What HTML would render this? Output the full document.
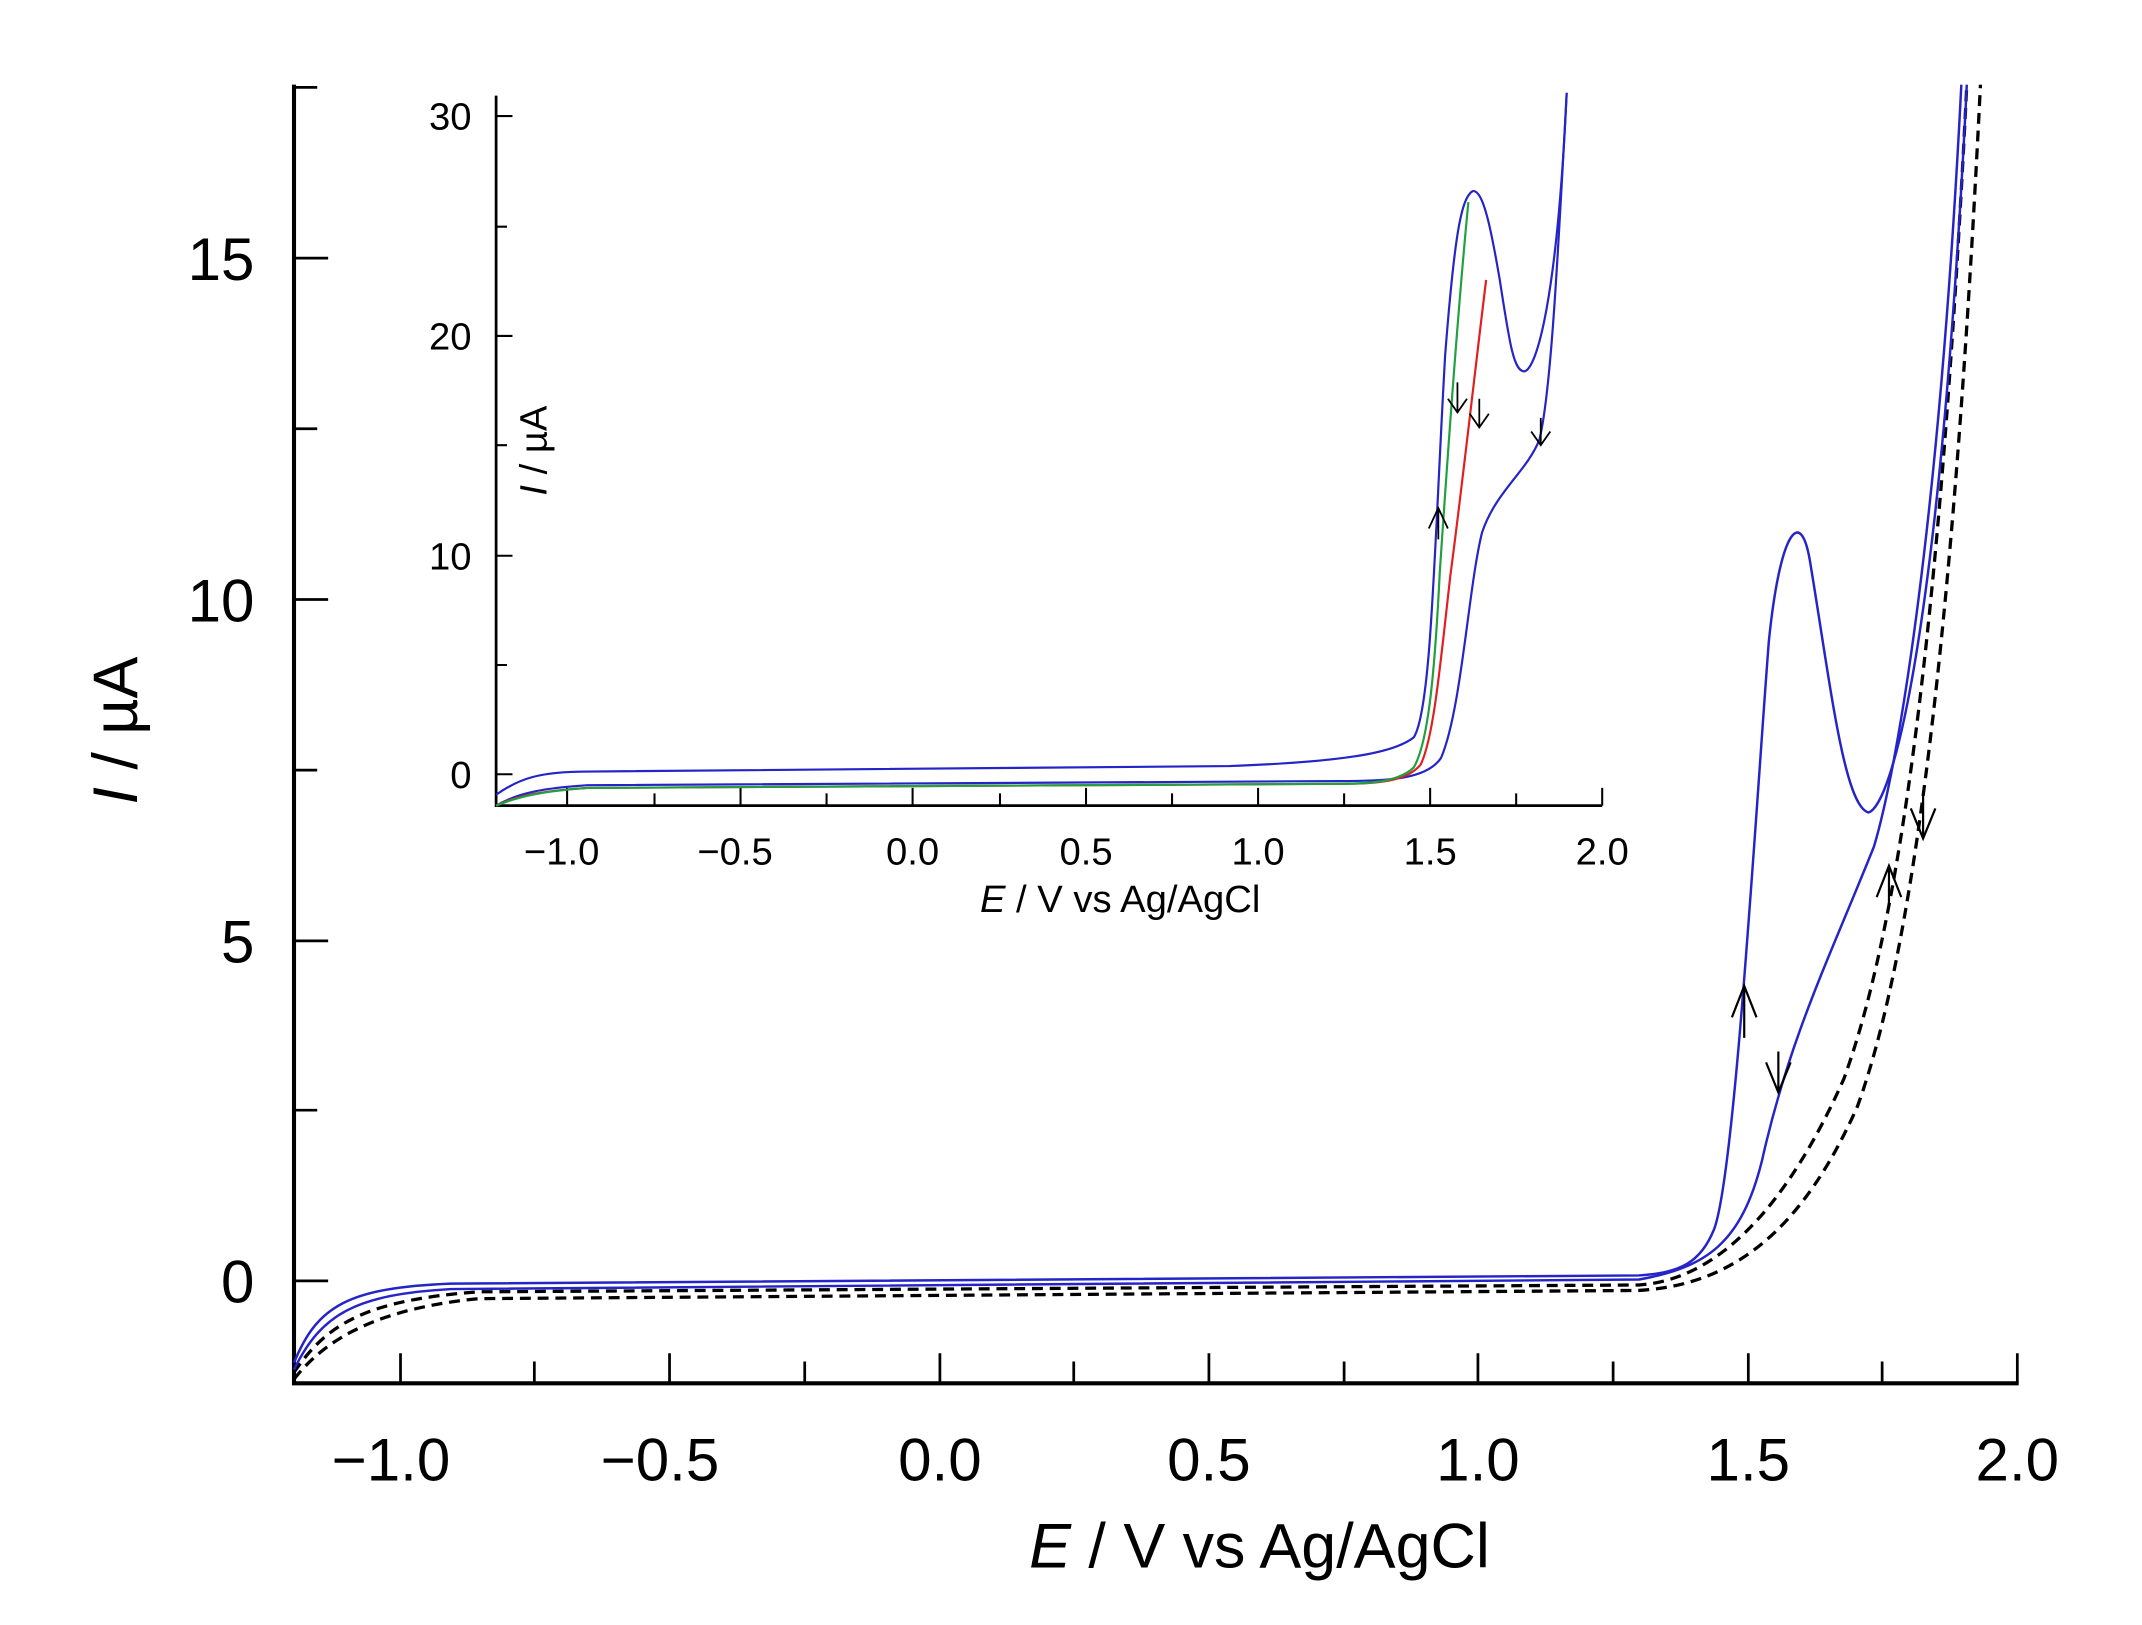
<!DOCTYPE html>
<html><head><meta charset="utf-8"><style>
html,body{margin:0;padding:0;background:#fff;}
svg{display:block;}
text{font-family:"Liberation Sans",Arial,sans-serif;fill:#000;}
</style></head><body>
<svg width="2142" height="1625" viewBox="0 0 1568 1190" xmlns="http://www.w3.org/2000/svg">
<rect width="1568" height="1190" fill="#fff"/>
<!-- main axes -->
<g stroke="#000" fill="none">
<path d="M215,62 V1013 H1478" stroke-width="3"/>
<g stroke-width="2">
<path d="M293,1013v-22 M490,1013v-22 M688,1013v-22 M885,1013v-22 M1082,1013v-22 M1280,1013v-22 M1477,1013v-22"/>
<path d="M391,1013v-16 M589,1013v-16 M786,1013v-16 M984,1013v-16 M1181,1013v-16 M1378,1013v-16"/>
<path d="M215,938h25 M215,689h25 M215,439h25 M215,189h25"/>
<path d="M215,813h17 M215,564h17 M215,314h17 M215,64h17"/>
</g></g>
<g font-size="44" text-anchor="middle">
<text x="286" y="1084">−1.0</text><text x="483" y="1084">−0.5</text><text x="688" y="1084">0.0</text>
<text x="885" y="1084">0.5</text><text x="1082" y="1084">1.0</text><text x="1280" y="1084">1.5</text><text x="1477" y="1084">2.0</text>
</g>
<g font-size="44" text-anchor="end">
<text x="186" y="954">0</text><text x="186" y="705">5</text><text x="186" y="455">10</text><text x="186" y="205">15</text>
</g>
<text x="922" y="1148" font-size="46" text-anchor="middle"><tspan font-style="italic">E</tspan> / V vs Ag/AgCl</text>
<text transform="translate(100,535) rotate(-90)" font-size="46" text-anchor="middle"><tspan font-style="italic">I</tspan> / µA</text>

<!-- main curves -->
<g fill="none">
<path stroke="#000" stroke-width="2.4" stroke-dasharray="8,5" d="M215,1005 C240,968 270,952 350,946 L1200,941 C1260,937 1310,880 1350,790 C1390,680 1420,470 1440,62"/>
<path stroke="#000" stroke-width="2.4" stroke-dasharray="8,5" d="M215,1010 C240,978 280,958 350,951 L1200,945 C1270,941 1320,900 1360,810 C1400,700 1430,470 1450,62"/>
<path stroke="#2424c8" stroke-width="1.8" d="M215,998 C232,956 255,943 330,940 L1200,934 C1230,932 1245,925 1255,900 C1270,860 1285,600 1295,470 C1303,390 1318,370 1325,410 C1340,500 1350,590 1368,595 C1385,590 1420,470 1440,62"/>
<path stroke="#2424c8" stroke-width="1.8" d="M1436,62 C1420,380 1390,560 1372,620 C1340,700 1310,760 1290,850 C1275,910 1250,928 1200,937 L330,944 C260,948 235,962 215,1003"/>
</g>
<g fill="none" stroke="#000" stroke-width="1.6">
<path d="M1277,760 V722 M1268,745 L1277,722 L1286,745"/>
<path d="M1302,770 V800 M1293,778 L1302,800 L1311,778"/>
<path d="M1383,665 V634 M1374,657 L1383,634 L1392,657"/>
<path d="M1408,580 V614 M1399,592 L1408,614 L1417,592"/>
</g>

<!-- inset axes -->
<g stroke="#000" fill="none">
<path d="M363,70 V590 H1173" stroke-width="2"/>
<g stroke-width="1.5">
<path d="M415,590v-13 M542,590v-13 M668,590v-13 M795,590v-13 M921,590v-13 M1047,590v-13 M1173,590v-13"/>
<path d="M479,590v-9 M605,590v-9 M732,590v-9 M858,590v-9 M984,590v-9 M1110,590v-9"/>
<path d="M363,567h12 M363,407h12 M363,246h12 M363,85h12"/>
<path d="M363,487h8 M363,326h8 M363,166h8"/>
</g></g>
<g font-size="28" text-anchor="middle">
<text x="411" y="633">−1.0</text><text x="538" y="633">−0.5</text><text x="668" y="633">0.0</text>
<text x="795" y="633">0.5</text><text x="921" y="633">1.0</text><text x="1047" y="633">1.5</text><text x="1173" y="633">2.0</text>
</g>
<g font-size="28" text-anchor="end">
<text x="345" y="577">0</text><text x="345" y="417">10</text><text x="345" y="256">20</text><text x="345" y="95">30</text>
</g>
<text x="820" y="668" font-size="28" text-anchor="middle"><tspan font-style="italic">E</tspan> / V vs Ag/AgCl</text>
<text transform="translate(400,330) rotate(-90)" font-size="28" text-anchor="middle"><tspan font-style="italic">I</tspan> / µA</text>

<!-- inset curves -->
<g fill="none" stroke-width="1.6">
<path stroke="#2424c8" d="M1147,68 C1140,200 1135,290 1127,322 C1118,345 1095,360 1085,390 C1075,430 1070,520 1055,555 C1045,570 1020,572 980,572 L430,575 C400,577 380,580 363,590"/>
<path stroke="#e02020" d="M1088,205 C1080,270 1070,360 1062,420 C1055,480 1050,540 1040,560 C1030,572 1010,574 980,574 L430,577 C400,579 380,582 363,590"/>
<path stroke="#20a040" d="M1075,148 C1068,220 1060,330 1054,420 C1050,500 1045,545 1035,562 C1025,572 1005,574 980,574 L430,577 C400,579 380,583 363,590"/>
<path stroke="#2424c8" d="M363,582 C380,570 395,565 430,565 L900,561 C980,558 1020,552 1035,540 C1048,520 1050,400 1058,260 C1065,170 1070,145 1078,140 C1086,138 1092,170 1098,205 C1105,250 1108,272 1116,272 C1125,270 1140,220 1147,68"/>
</g>
<g fill="none" stroke="#000" stroke-width="1.3">
<path d="M1053,395 V372 M1046,387 L1053,372 L1060,387"/>
<path d="M1067,280 V302 M1060,292 L1067,302 L1074,292"/>
<path d="M1083,292 V313 M1076,303 L1083,313 L1090,303"/>
<path d="M1128,306 V326 M1121,316 L1128,326 L1135,316"/>
</g>
</svg>
</body></html>
